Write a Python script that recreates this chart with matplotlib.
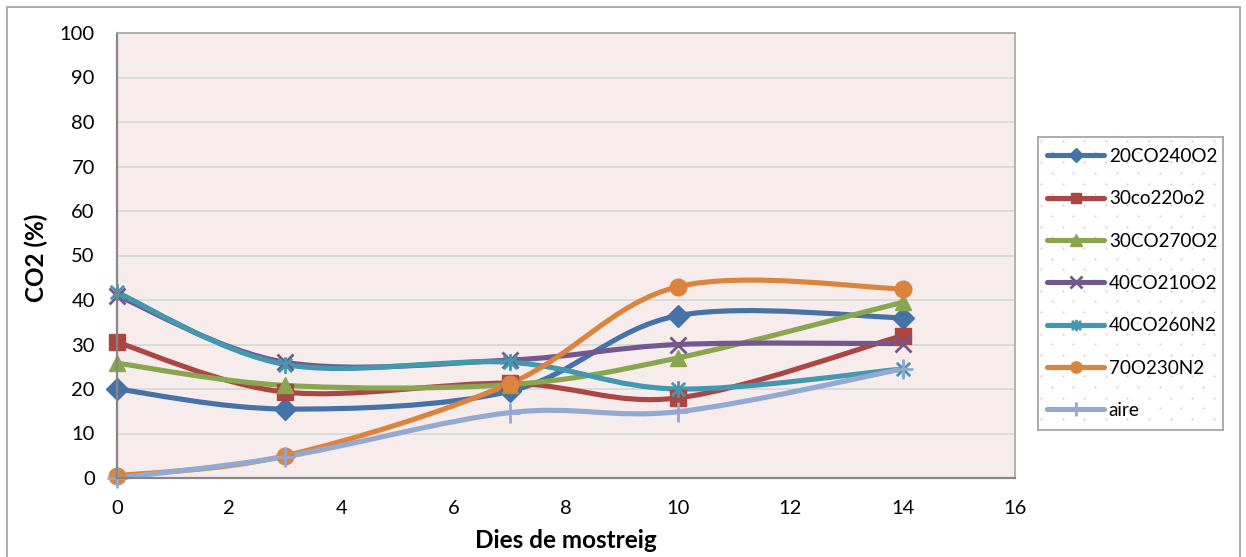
import numpy as np
import matplotlib
matplotlib.use('Agg')
import matplotlib.pyplot as plt
from matplotlib.path import Path
from matplotlib.patches import PathPatch, Rectangle
from matplotlib.lines import Line2D

plt.rcParams['font.family'] = ['Lato', 'DejaVu Sans']

dies = [0, 3, 7, 10, 14]
series_names = ['20CO240O2', '30co220o2', '30CO270O2', '40CO210O2', '40CO260N2', '70O230N2', 'aire']
co2_20co240o2 = [20, 15.5, 19.5, 36.5, 36]
co2_30co220o2 = [30.5, 19.3, 21.3, 18, 32]
co2_30co270o2 = [25.8, 20.8, 21, 27, 39.5]
co2_40co210o2 = [41, 26, 26.5, 30, 30.2]
co2_40co260n2 = [41.7, 25.5, 26, 20, 24.5]
co2_70o230n2 = [0.5, 5, 21.2, 43, 42.5]
co2_aire = [0, 4.8, 14.7, 14.9, 24.5]
x_ticks = list(range(0, 17, 2))
y_ticks = list(range(0, 101, 10))

colors = ['#4572A7', '#AA4643', '#89A54E', '#71588F', '#4198AF', '#DB843D', '#93A9CF']

# excel style star: an x with a vertical bar through it
star = Path([(-1, -1), (1, 1), (-1, 1), (1, -1), (0, -1.25), (0, 1.25)],
            [Path.MOVETO, Path.LINETO, Path.MOVETO, Path.LINETO, Path.MOVETO, Path.LINETO])
markers = ['D', 's', '^', 'x', star, 'o', '+']
msizes = [11, 11, 12, 12, 12, 12, 14]
values = [co2_20co240o2, co2_30co220o2, co2_30co270o2, co2_40co210o2,
          co2_40co260n2, co2_70o230n2, co2_aire]


def smooth_path(xs, ys):
    # bezier through the points, control points as excel's smoothed line
    pts = np.column_stack([xs, ys]).astype(float)
    n = len(pts)
    verts = [pts[0]]
    codes = [Path.MOVETO]
    for i in range(n - 1):
        p0 = pts[max(i - 1, 0)]
        p1 = pts[i]
        p2 = pts[i + 1]
        p3 = pts[min(i + 2, n - 1)]
        verts += [p1 + (p2 - p0) / 6.0, p2 - (p3 - p1) / 6.0, p2]
        codes += [Path.CURVE4] * 3
    return Path(verts, codes)


def edge_width(m):
    return 2.0 if m in ('x', '+') or m is star else 1.0


W, H = 1246, 557
fig = plt.figure(figsize=(W / 100, H / 100), dpi=100)

# outer chart border
fig.patches.append(Rectangle((7 / W, -0.05), (1240 - 7) / W, 1.05 - 7 / H, transform=fig.transFigure,
                             fill=False, edgecolor='#A6A6A6', lw=1.3))

ax = fig.add_axes([117 / W, 1 - 478 / H, (1015 - 117) / W, (478 - 33) / H])
ax.set_facecolor('#F7ECEC')

for name, vals, c, m, ms in zip(series_names, values, colors, markers, msizes):
    ax.add_patch(PathPatch(smooth_path(dies, vals), facecolor='none', edgecolor=c,
                           lw=3.7, capstyle='round', joinstyle='round', clip_on=False))
    ax.plot(dies, vals, linestyle='none', marker=m, markersize=ms, color=c,
            markeredgecolor=c, markeredgewidth=edge_width(m), clip_on=False)

ax.set_xlim(0, 16)
ax.set_ylim(0, 100)
ax.set_xticks(x_ticks)
ax.set_yticks(y_ticks)
ax.tick_params(length=0, labelsize=14.5, pad=16, colors='black')
ax.grid(axis='y', color='#D9D9D9', lw=1.3)
ax.set_axisbelow(True)
for s in ['left', 'bottom']:
    ax.spines[s].set_color('#868686')
    ax.spines[s].set_linewidth(1.6)
for s in ['top', 'right']:
    ax.spines[s].set_color('#A6A6A6')
    ax.spines[s].set_linewidth(1.2)

ax.set_xlabel('Dies de mostreig', fontsize=17.5, fontweight='bold')
ax.set_ylabel('CO2 (%)', fontsize=17.5, fontweight='bold')
ax.xaxis.set_label_coords(0.5, -(541 - 478) / 445)
ax.xaxis.label.set_va('center')
ax.yaxis.set_label_coords(-(117 - 36) / 898, (478 - 258) / 445)
ax.yaxis.label.set_va('center')

# legend box: white with a light pink dot pattern
lx0, ly0, lx1, ly1 = 1038, 137, 1223, 430
lax = fig.add_axes([lx0 / W, 1 - ly1 / H, (lx1 - lx0) / W, (ly1 - ly0) / H])
lax.set_xlim(lx0, lx1)
lax.set_ylim(ly1, ly0)
lax.set_xticks([])
lax.set_yticks([])
for s in lax.spines.values():
    s.set_color('#A6A6A6')
    s.set_linewidth(1.3)
rows = np.arange(ly0 + 4, ly1, 10.7)
for k, yy in enumerate(rows):
    xx = np.arange(lx0 + 3 + (k % 2) * 10.8, lx1, 21.6)
    lax.scatter(xx, np.full_like(xx, yy), s=2.5, color='#F3C9C9', linewidths=0)

handles = [Line2D([], [], color=c, lw=3.7, marker=m, markersize=ms * 0.68,
                  markeredgewidth=edge_width(m), solid_capstyle='round')
           for c, m, ms in zip(colors, markers, msizes)]
leg = lax.legend(handles, series_names, loc='center left', bbox_to_anchor=(0.0, 0.5),
                 frameon=False, fontsize=13.6, handlelength=3.0, handletextpad=0.25,
                 labelspacing=1.34, borderaxespad=0.3, borderpad=0.2, numpoints=1)

fig.savefig('out.png', dpi=100)
